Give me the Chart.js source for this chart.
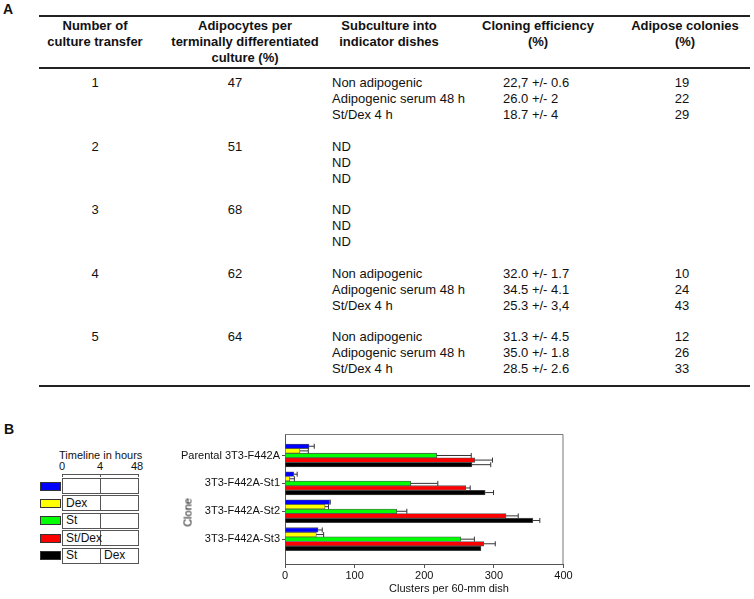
<!DOCTYPE html>
<html>
<head>
<meta charset="utf-8">
<script src="https://cdn.jsdelivr.net/npm/chart.js@4.4.1/dist/chart.umd.min.js"></script>
<style>
body { margin: 0; width: 754px; height: 599px; position: relative; overflow: hidden; background: #fff;
       font-family: "Liberation Sans", Arial, sans-serif; color: #111; }
.t { position: absolute; white-space: nowrap; line-height: 16px; font-size: 13px; }
.c { text-align: center; width: 200px; }
.hd { font-weight: bold; }
.rule { position: absolute; left: 39px; width: 711px; height: 0; border-top: 2px solid #222; }
.panel { position: absolute; font-weight: bold; font-size: 14px; }
.sw { position: absolute; left: 40px; width: 19px; height: 7px; border: 1px solid #333; }
.cell { position: absolute; height: 14px; border: 1px solid #555; box-sizing: content-box; }
.lt { position: absolute; font-size: 11px; line-height: 13px; white-space: nowrap; }
#chartBox { position: absolute; left: 170px; top: 420px; }
</style>
</head>
<body>
<div class="panel" style="left:3px;top:1px">A</div>
<div class="rule" style="top:15px"></div>
<div class="rule" style="top:67px"></div>
<div class="rule" style="top:385px"></div>
<div id="table"></div>

<div class="panel" style="left:4px;top:421px">B</div>
<div id="legend"></div>

<div id="chartBox"><canvas id="clusterChart" width="430" height="179"></canvas></div>
<div class="lt" style="left:173px;top:506px;transform:rotate(-90deg);transform-origin:center;width:30px;text-align:center">Clone</div>
<div class="lt" style="left:349px;top:582px;width:200px;text-align:center">Clusters per 60-mm dish</div>

<script>
// ---- panel A table ----
const headers = [
    ['Number of', 'culture transfer'],
    ['Adipocytes per', 'terminally differentiated', 'culture (%)'],
    ['Subculture into', 'indicator dishes'],
    ['Cloning efficiency', '(%)'],
    ['Adipose colonies', '(%)']
];
const transfers = ['1', '2', '3', '4', '5'];
const adipocytes = ['47', '51', '68', '62', '64'];
const subcultures = [
    ['Non adipogenic', 'Adipogenic serum 48 h', 'St/Dex 4 h'],
    ['ND', 'ND', 'ND'],
    ['ND', 'ND', 'ND'],
    ['Non adipogenic', 'Adipogenic serum 48 h', 'St/Dex 4 h'],
    ['Non adipogenic', 'Adipogenic serum 48 h', 'St/Dex 4 h']
];
const cloning = [
    ['22,7 +/- 0.6', '26.0 +/- 2', '18.7 +/- 4'],
    [], [],
    ['32.0 +/- 1.7', '34.5 +/- 4.1', '25.3 +/- 3,4'],
    ['31.3 +/- 4.5', '35.0 +/- 1.8', '28.5 +/- 2.6']
];
const colonies = [
    ['19', '22', '29'], [], [],
    ['10', '24', '43'],
    ['12', '26', '33']
];

const table = document.getElementById('table');
function put(text, x, y, cls, centered) {
    const d = document.createElement('div');
    d.className = 't ' + (cls || '') + (centered ? ' c' : '');
    d.textContent = text;
    d.style.left = (centered ? x - 100 : x) + 'px';
    d.style.top = (y - 8) + 'px';
    table.appendChild(d);
}
const headX = [95, 245, 389, 538, 685];
headers.forEach((lines, i) => lines.forEach((s, j) => put(s, headX[i], 26 + j * 16, 'hd', true)));
const rowY = [83, 147, 210, 274, 337];
transfers.forEach((s, i) => {
    put(s, 95, rowY[i], '', true);
    put(adipocytes[i], 235, rowY[i], '', true);
    subcultures[i].forEach((v, j) => put(v, 332, rowY[i] + j * 16));
    cloning[i].forEach((v, j) => put(v, 503, rowY[i] + j * 16));
    colonies[i].forEach((v, j) => put(v, 682, rowY[i] + j * 16, '', true));
});

// ---- panel B ----
const clones = ['Parental 3T3-F442A', '3T3-F442A-St1', '3T3-F442A-St2', '3T3-F442A-St3'];
const treatments = ['', 'Dex', 'St', 'St/Dex', 'St'];
const afterFour = ['', '', '', '', 'Dex'];
const colors = ['#0000ff', '#ffff00', '#00ff00', '#ff0000', '#000000'];

// clusters per dish, one value per clone
const ctrlValues      = [34.5, 12.5, 64, 47.5];
const dexValues       = [21.5, 7, 57.5, 45];
const stValues        = [218, 180.5, 160.5, 252.5];
const stDexValues     = [272.5, 259.5, 317.5, 285.5];
const stThenDexValues = [268.5, 287.5, 356, 281.5];
// upper error (SD)
const ctrlErr      = [7.5, 5, 1, 6];
const dexErr       = [12, 6.5, 5, 10.5];
const stErr        = [49.5, 39, 14.5, 19.5];
const stDexErr     = [25.5, 6.5, 17.5, 16.5];
const stThenDexErr = [27, 12, 10, 0];

const seriesValues = [ctrlValues, dexValues, stValues, stDexValues, stThenDexValues];
const seriesErr = [ctrlErr, dexErr, stErr, stDexErr, stThenDexErr];

// legend / timeline
const legend = document.getElementById('legend');
function el(cls, css, text) {
    const d = document.createElement('div');
    d.className = cls;
    d.style.cssText = css;
    if (text) d.textContent = text;
    legend.appendChild(d);
}
el('lt', 'left:59px;top:449px', 'Timeline in hours');
el('lt', 'left:59px;top:460px', '0');
el('lt', 'left:97px;top:460px', '4');
el('lt', 'left:131px;top:460px', '48');
el('', 'position:absolute;left:62px;top:474px;width:75px;height:2px;border:1px solid #555;border-bottom:none');
el('', 'position:absolute;left:100px;top:474px;width:0;height:3px;border-left:1px solid #555');
treatments.forEach((s, i) => {
    const top = 478 + i * 17.4;
    el('sw', 'top:' + (top + 3.5) + 'px;background:' + colors[i]);
    el('cell', 'left:62px;top:' + top + 'px;width:37px');
    el('cell', 'left:100px;top:' + top + 'px;width:37px');
    if (s) el('lt', 'left:66px;top:' + (top + 1.5) + 'px;font-size:12px', s);
    if (afterFour[i]) el('lt', 'left:104px;top:' + (top + 1.5) + 'px;font-size:12px', afterFour[i]);
});

const errorBars = {
    id: 'errorBars',
    afterDatasetsDraw(chart) {
        const ctx = chart.ctx, xs = chart.scales.x;
        ctx.save();
        ctx.strokeStyle = '#333';
        ctx.lineWidth = 1;
        chart.data.datasets.forEach((ds, di) => {
            chart.getDatasetMeta(di).data.forEach((bar, i) => {
                const e = seriesErr[di][i];
                if (!e) return;
                const x1 = xs.getPixelForValue(seriesValues[di][i] + e);
                ctx.beginPath();
                ctx.moveTo(bar.x, bar.y);
                ctx.lineTo(x1, bar.y);
                ctx.moveTo(x1, bar.y - 2.5);
                ctx.lineTo(x1, bar.y + 2.5);
                ctx.stroke();
            });
        });
        ctx.restore();
    }
};
const frame = {
    id: 'frame',
    afterDraw(chart) {
        const a = chart.chartArea, ctx = chart.ctx;
        ctx.save();
        ctx.strokeStyle = '#777';
        ctx.lineWidth = 1;
        ctx.beginPath();
        ctx.moveTo(a.left, a.top + 0.5);
        ctx.lineTo(a.right - 0.5, a.top + 0.5);
        ctx.lineTo(a.right - 0.5, a.bottom);
        ctx.stroke();
        ctx.restore();
    }
};

const font = { family: '"Liberation Sans", Arial, sans-serif', size: 11 };
new Chart(document.getElementById('clusterChart'), {
    type: 'bar',
    data: {
        datasets: seriesValues.map((vals, di) => ({
            label: treatments[di] + (afterFour[di] ? ' then ' + afterFour[di] : '') || 'None',
            data: vals.map((v, i) => ({ x: v, y: i })),
            backgroundColor: colors[di],
            borderColor: '#555',
            borderWidth: 0.8,
            barThickness: 4.6
        }))
    },
    options: {
        indexAxis: 'y',
        responsive: false,
        animation: false,
        layout: { padding: { top: 14, right: 36.5, left: 0, bottom: 0 } },
        plugins: { legend: { display: false }, tooltip: { enabled: false } },
        scales: {
            x: {
                type: 'linear', min: 0, max: 400,
                ticks: { stepSize: 100, font, color: '#111', padding: 1 },
                grid: { drawOnChartArea: false, tickLength: 4, color: '#555' },
                border: { color: '#555' },
                afterFit: s => { s.height = 35; }
            },
            y: {
                type: 'linear', reverse: true, min: -0.77, max: 3.89,
                offset: false,
                afterBuildTicks: s => { s.ticks = clones.map((c, i) => ({ value: i })); },
                ticks: { callback: v => clones[v], font, color: '#111', padding: 2, autoSkip: false },
                grid: { offset: false, drawOnChartArea: false, tickLength: 3, color: '#555' },
                border: { color: '#555' },
                afterFit: s => { s.width = 115; }
            }
        }
    },
    plugins: [errorBars, frame]
});
</script>
</body>
</html>
